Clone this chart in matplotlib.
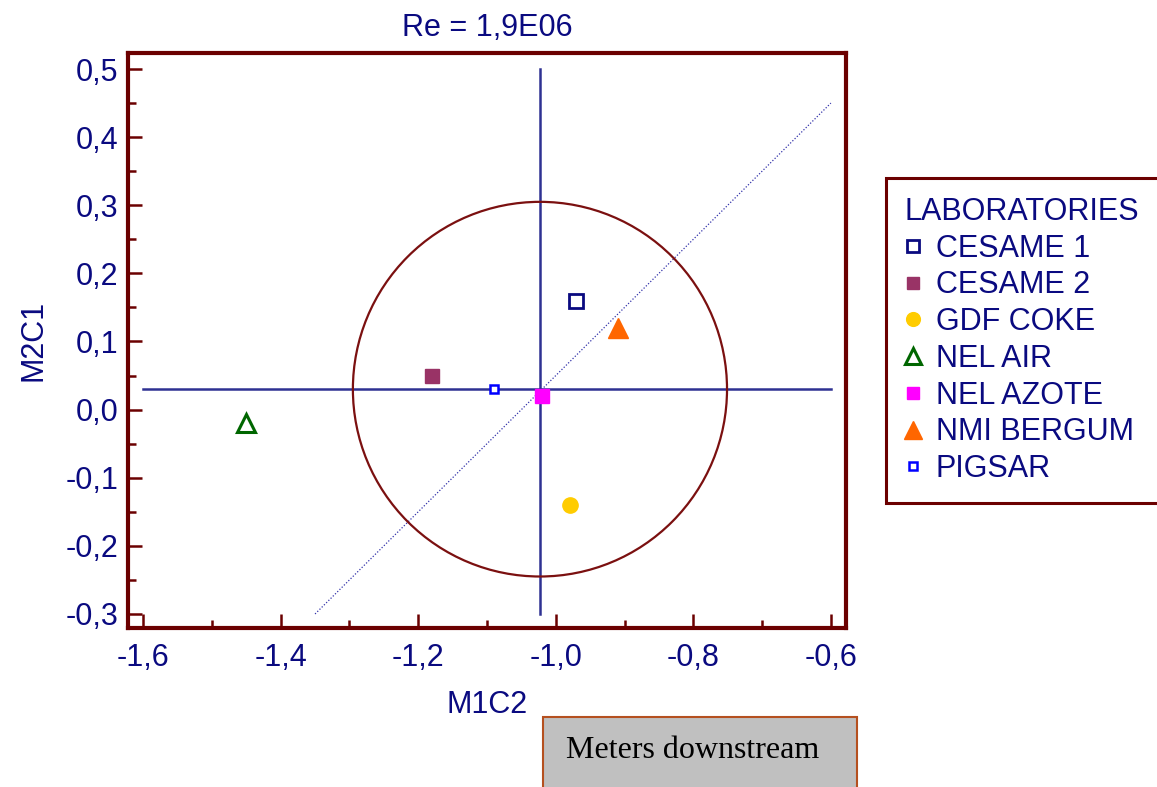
import matplotlib
matplotlib.use("Agg")
import matplotlib.pyplot as plt
from matplotlib.patches import Ellipse, Rectangle
from matplotlib.ticker import MultipleLocator, FuncFormatter

plt.rcParams['font.family'] = ['Liberation Sans', 'DejaVu Sans']

# ---- data ----
labs = ["CESAME 1", "CESAME 2", "GDF COKE", "NEL AIR", "NEL AZOTE", "NMI BERGUM", "PIGSAR"]
m1c2 = [-0.97, -1.18, -0.98, -1.45, -1.02, -0.91, -1.09]
m2c1 = [0.16, 0.05, -0.14, -0.02, 0.02, 0.12, 0.03]
markers = ["s", "s", "o", "^", "s", "^", "s"]
facecolors = ["white", "#993366", "#ffcc00", "white", "#ff00ff", "#ff6600", "white"]
edgecolors = ["#0a0a80", "#993366", "#ffcc00", "#006600", "#ff00ff", "#ff6600", "#0000ff"]
msizes = [10, 10, 11, 13, 10, 15, 6]
mews = [2, 1, 1, 2.2, 1, 1, 1.8]

center = (-1.023, 0.030)
radius_x, radius_y = 0.272, 0.275
diag_x = [-1.35, -0.60]
diag_y = [-0.30, 0.45]
xlim = (-1.622, -0.578)
ylim = (-0.3206, 0.5235)

navy = "#0a0a80"
dred = "#6b0000"

fig = plt.figure(figsize=(11.57, 7.87), dpi=100)
ax = fig.add_axes([128/1157, 1-628/787, (846-128)/1157, (628-53)/787])
ax.set_xlim(*xlim)
ax.set_ylim(*ylim)

# crosshair
ax.plot([-1.6, -0.6], [center[1], center[1]], color="#2e3192", lw=1.8, zorder=2)
ax.plot([center[0], center[0]], [-0.3, 0.5], color="#2e3192", lw=1.8, zorder=2)
# diagonal
ax.plot(diag_x, diag_y, color="#3333aa", lw=0.9, ls=(0, (1, 1.5)), zorder=2)
# circle
ax.add_patch(Ellipse(center, 2*radius_x, 2*radius_y, fill=False, edgecolor="#7b1010", lw=1.6, zorder=2))

handles = []
for lab, x, y, m, fc, ec, ms, mew in zip(labs, m1c2, m2c1, markers, facecolors, edgecolors, msizes, mews):
    h, = ax.plot([x], [y], ls="none", marker=m, markersize=ms, markerfacecolor=fc,
                 markeredgecolor=ec, markeredgewidth=mew, label=lab, zorder=4)
    handles.append(h)

for s in ax.spines.values():
    s.set_color(dred)
    s.set_linewidth(3)

ax.xaxis.set_major_locator(MultipleLocator(0.2))
ax.xaxis.set_minor_locator(MultipleLocator(0.1))
ax.yaxis.set_major_locator(MultipleLocator(0.1))
ax.yaxis.set_minor_locator(MultipleLocator(0.05))
fmt = FuncFormatter(lambda v, p: ("%.1f" % v).replace(".", ",").replace("-0,0", "0,0"))
ax.xaxis.set_major_formatter(fmt)
ax.yaxis.set_major_formatter(fmt)
ax.tick_params(which="both", direction="in", color=dred, width=1.8, labelcolor=navy,
               top=False, right=False)
ax.tick_params(which="major", length=10, labelsize=22)
ax.tick_params(which="minor", length=6)
ax.tick_params(axis="x", which="major", pad=11)
ax.tick_params(axis="y", which="major", pad=7)

ax.set_title("Re = 1,9E06", color=navy, fontsize=22, pad=12)
ax.set_xlabel("M1C2", color=navy, fontsize=22, labelpad=12)
ax.set_ylabel("M2C1", color=navy, fontsize=22, labelpad=12)

leg = ax.legend(handles=handles, title="LABORATORIES", loc="upper left",
                bbox_to_anchor=(886/1157, 1-505/787, 0.3, (505-178)/787),
                bbox_transform=fig.transFigure, mode="expand",
                borderaxespad=0, fancybox=False, framealpha=1, fontsize=22,
                title_fontsize=22, alignment="left", labelcolor=navy,
                handlelength=0.5, handletextpad=0.5, labelspacing=0.22,
                borderpad=0.62, markerscale=0.9)
leg.get_title().set_color(navy)
leg.get_frame().set_edgecolor(dred)
leg.get_frame().set_linewidth(2.2)

# bottom box
fig.patches.append(Rectangle((543/1157, -0.01), (857-543)/1157, 1-717/787+0.01,
                             transform=fig.transFigure, facecolor="#c0c0c0",
                             edgecolor="#b5501f", lw=1.5))
fig.text(566/1157, 1-750/787, "Meters downstream", family="Liberation Serif",
         fontsize=23, color="black", va="center", ha="left")

fig.savefig("out.png", dpi=100)
